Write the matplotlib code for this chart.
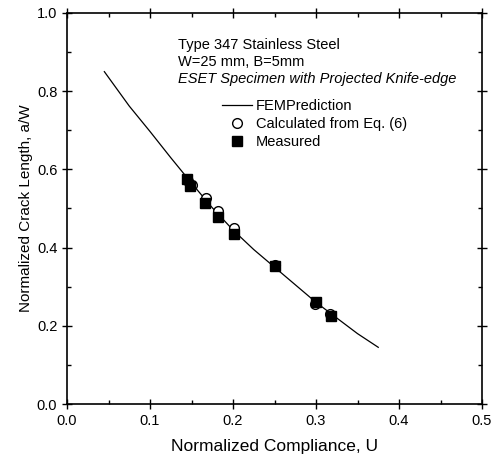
import matplotlib
matplotlib.use("Agg")
import matplotlib.pyplot as plt
from matplotlib.ticker import MultipleLocator, FormatStrFormatter

plt.rcParams['font.family'] = ['Liberation Sans', 'DejaVu Sans']

# FEM prediction curve
fem_u = [0.045, 0.075, 0.100, 0.125, 0.150, 0.175, 0.200, 0.225, 0.250, 0.275, 0.300, 0.325, 0.350, 0.375]
fem_aw = [0.850, 0.762, 0.697, 0.630, 0.565, 0.502, 0.445, 0.395, 0.350, 0.305, 0.260, 0.220, 0.180, 0.145]

# Calculated from Eq. (6)
calc_u = [0.146, 0.150, 0.168, 0.182, 0.201, 0.251, 0.299, 0.317]
calc_aw = [0.570, 0.560, 0.527, 0.493, 0.450, 0.355, 0.255, 0.230]

# Measured
meas_u = [0.145, 0.148, 0.166, 0.182, 0.201, 0.251, 0.300, 0.318]
meas_aw = [0.575, 0.558, 0.515, 0.478, 0.435, 0.352, 0.262, 0.226]

fig = plt.figure(figsize=(5.03, 4.62), dpi=100)
ax = fig.add_axes([67/503, 1-404/462, (482-67)/503, (404-13)/462])

ax.plot(fem_u, fem_aw, color='black', lw=0.9, label='FEMPrediction')
ax.plot(calc_u, calc_aw, 'o', ms=7, mfc='white', mec='black', mew=1.0, ls='none',
        label='Calculated from Eq. (6)')
ax.plot(meas_u, meas_aw, 's', ms=7, mfc='black', mec='black', ls='none', label='Measured')

ax.set_xlim(0, 0.5)
ax.set_ylim(0, 1.0)
ax.xaxis.set_major_locator(MultipleLocator(0.1))
ax.xaxis.set_minor_locator(MultipleLocator(0.05))
ax.yaxis.set_major_locator(MultipleLocator(0.2))
ax.yaxis.set_minor_locator(MultipleLocator(0.1))
ax.xaxis.set_major_formatter(FormatStrFormatter('%.1f'))
ax.yaxis.set_major_formatter(FormatStrFormatter('%.1f'))

ax.tick_params(which='both', top=True, right=True, labelsize=10.5)
ax.tick_params(which='major', direction='inout', length=7, width=1)
ax.tick_params(which='minor', direction='in', length=3, width=1)
for s in ax.spines.values():
    s.set_linewidth(1.2)

ax.set_xlabel('Normalized Compliance, U', fontsize=12.5, labelpad=8)
ax.set_ylabel('Normalized Crack Length, a/W', fontsize=11, labelpad=3)

ax.text(0.134, 0.918, 'Type 347 Stainless Steel', fontsize=10.5, va='center')
ax.text(0.134, 0.874, 'W=25 mm, B=5mm', fontsize=10.5, va='center')
ax.text(0.134, 0.830, 'ESET Specimen with Projected Knife-edge', fontsize=10.5,
        va='center', style='italic')

ax.legend(loc='upper left', bbox_to_anchor=(0.35, 0.805), frameon=False,
          fontsize=10.5, handlelength=2.0, handletextpad=0.3, labelspacing=0.25,
          borderpad=0.2)

fig.savefig('out.png', dpi=100)
